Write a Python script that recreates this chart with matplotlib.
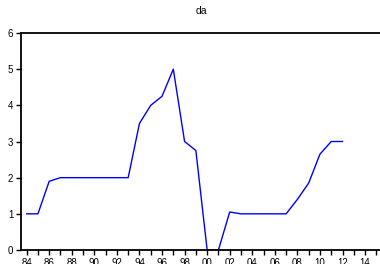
import matplotlib
matplotlib.use("Agg")
import matplotlib.pyplot as plt
from matplotlib.ticker import MultipleLocator, FuncFormatter

years = list(range(1984, 2013))
values = [1.0, 1.0, 1.9, 2.0, 2.0, 2.0, 2.0, 2.0, 2.0, 2.0,
          3.5, 4.0, 4.25, 5.0, 3.0, 2.75, 0.0, 0.0, 1.05, 1.0,
          1.0, 1.0, 1.0, 1.0, 1.4, 1.85, 2.65, 3.0, 3.0]
title = "da"

plt.rcParams['font.family'] = ['Liberation Sans', 'DejaVu Sans']
W, H = 380, 264
fig = plt.figure(figsize=(W / 100, H / 100), dpi=100)
ax = fig.add_axes([21 / W, 14 / H, (382 - 21) / W, (250 - 33) / H])
ax.plot(years, values, color='#0000ff', lw=1.0, clip_on=True)
ax.set_xlim(1983.5, 2015.5)
ax.set_ylim(0, 6)
ax.yaxis.set_major_locator(MultipleLocator(1))
ax.xaxis.set_major_locator(MultipleLocator(2))
ax.xaxis.set_minor_locator(MultipleLocator(1))
ax.xaxis.set_major_formatter(FuncFormatter(lambda v, p: f"{int(v) % 100:02d}"))
ax.tick_params(axis='both', which='both', direction='out', length=3.5, width=1,
               labelsize=7, pad=2, color='black')
for s in ['right']:
    ax.spines[s].set_visible(False)
for s in ['left', 'top', 'bottom']:
    ax.spines[s].set_linewidth(1.3)
ax.set_title(title, fontsize=7.5, pad=14)
fig.savefig("out.png", dpi=100)
